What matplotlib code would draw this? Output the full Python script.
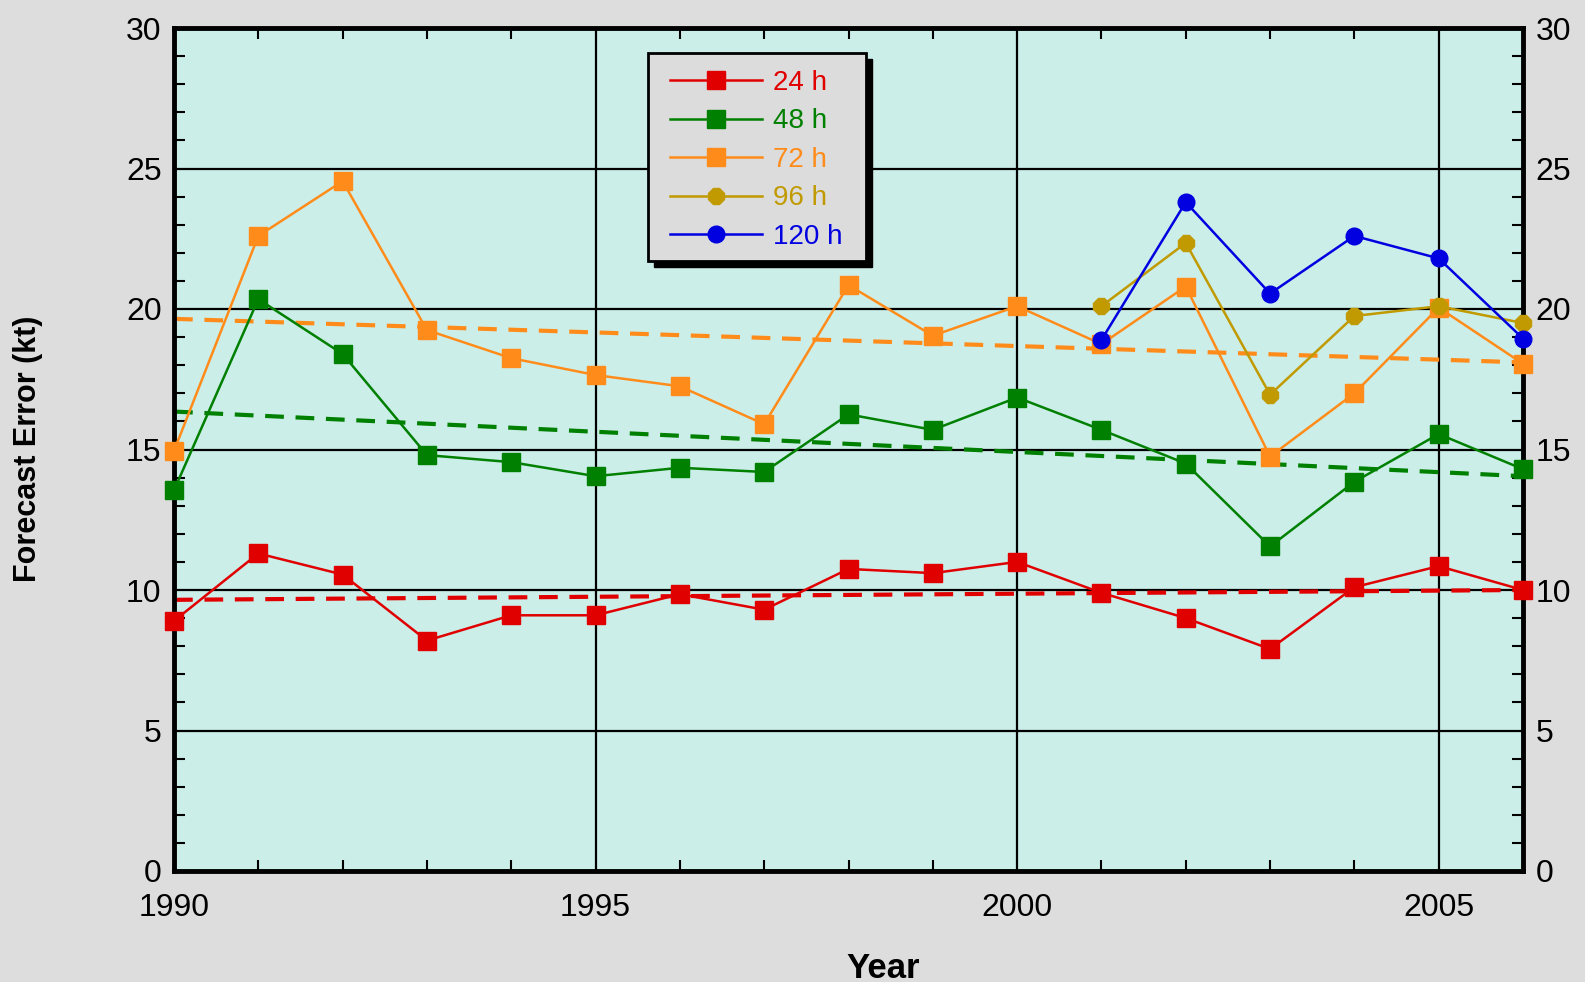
import matplotlib.pyplot as plt
from matplotlib.ticker import MultipleLocator
from matplotlib.patches import Rectangle

plt.rcParams['font.family'] = ['Liberation Sans', 'DejaVu Sans']

# 数据
years = list(range(1990, 2007))
err_24 = [8.9, 11.3, 10.55, 8.2, 9.1, 9.1, 9.85, 9.3, 10.75, 10.6, 11.0, 9.9, 9.0, 7.9, 10.1, 10.85, 10.0]
err_48 = [13.55, 20.35, 18.4, 14.8, 14.55, 14.05, 14.35, 14.2, 16.25, 15.7, 16.85, 15.7, 14.5, 11.55, 13.85, 15.55, 14.3]
err_72 = [14.95, 22.6, 24.55, 19.25, 18.25, 17.65, 17.25, 15.9, 20.85, 19.05, 20.1, 18.75, 20.8, 14.75, 17.0, 20.05, 18.05]
years_late = list(range(2001, 2007))
err_96 = [20.1, 22.35, 16.95, 19.75, 20.1, 19.5]
err_120 = [18.9, 23.8, 20.55, 22.6, 21.8, 18.95]

# 趋势线端点 (1990, 2006)
trend_years = [1990, 2006]
trend_24 = [9.65, 10.0]
trend_48 = [16.35, 14.05]
trend_72 = [19.65, 18.1]

labels = ['24 h', '48 h', '72 h', '96 h', '120 h']
colors = ['#E00000', '#008000', '#FF8C1A', '#C09A00', '#0000E0']

W, H = 1585, 982
fig = plt.figure(figsize=(W / 100, H / 100), dpi=100, facecolor='#DCDDDC')
ax = fig.add_axes([174 / W, 1 - 871 / H, (1523 - 174) / W, (871 - 28) / H])
ax.set_facecolor('#CCEEE9')

# 趋势线
for tv, c in zip([trend_24, trend_48, trend_72], colors[:3]):
    ax.plot(trend_years, tv, color=c, lw=3, dashes=(4.5, 2.8), zorder=2)

# 数据线
series = [(years, err_24, 's', 12.5), (years, err_48, 's', 12.5), (years, err_72, 's', 12.5),
          (years_late, err_96, '8', 12), (years_late, err_120, 'o', 12)]
handles = []
for (x, y, m, ms), c, lab in zip(series, colors, labels):
    h, = ax.plot(x, y, color=c, lw=1.8, marker=m, markersize=ms, label=lab, zorder=3,
                 clip_on=False)
    handles.append(h)

ax.set_xlim(1990, 2006)
ax.set_ylim(0, 30)
ax.xaxis.set_major_locator(MultipleLocator(5))
ax.xaxis.set_minor_locator(MultipleLocator(1))
ax.yaxis.set_major_locator(MultipleLocator(5))
ax.yaxis.set_minor_locator(MultipleLocator(1))
ax.grid(True, which='major', color='black', lw=1.6, zorder=1)
ax.set_axisbelow(True)

ax.tick_params(which='both', direction='in', top=True, right=True,
               labelright=True, labelsize=23, colors='black')
ax.tick_params(which='major', length=0)
ax.tick_params(axis='x', which='major', pad=16)
ax.tick_params(axis='y', which='major', pad=9)
ax.tick_params(which='minor', length=8, width=1.5)
for s in ax.spines.values():
    s.set_linewidth(3.5)

fig.text(883 / W, 4 / H, 'Year', fontsize=25, fontweight='bold',
         ha='center', va='baseline')
fig.text(28 / W, 1 - 449 / H, 'Forecast Error (kt)', fontsize=22, fontweight='bold',
         rotation=90, ha='center', va='center')

# 图例框（带阴影）
box_x0, box_y0, box_x1, box_y1 = 648, 53, 866, 261
fig.patches.append(Rectangle(((box_x0 + 6) / W, 1 - (box_y1 + 6) / H),
                             (box_x1 - box_x0) / W, (box_y1 - box_y0) / H,
                             transform=fig.transFigure, facecolor='black',
                             edgecolor='black', zorder=5))
fig.patches.append(Rectangle((box_x0 / W, 1 - box_y1 / H),
                             (box_x1 - box_x0) / W, (box_y1 - box_y0) / H,
                             transform=fig.transFigure, facecolor='#DCDCDC',
                             edgecolor='black', lw=2, zorder=6))

leg = fig.legend(handles=handles, loc='upper left',
                 bbox_to_anchor=((box_x0 + 8) / W, 1 - (box_y0 + 3) / H),
                 fontsize=20, frameon=False, handlelength=3.3, labelspacing=0.45,
                 borderpad=0.5, borderaxespad=0, handletextpad=0.4)
leg.set_zorder(7)
for t, c in zip(leg.get_texts(), colors):
    t.set_color(c)

fig.savefig('out.png', dpi=100, facecolor=fig.get_facecolor())
